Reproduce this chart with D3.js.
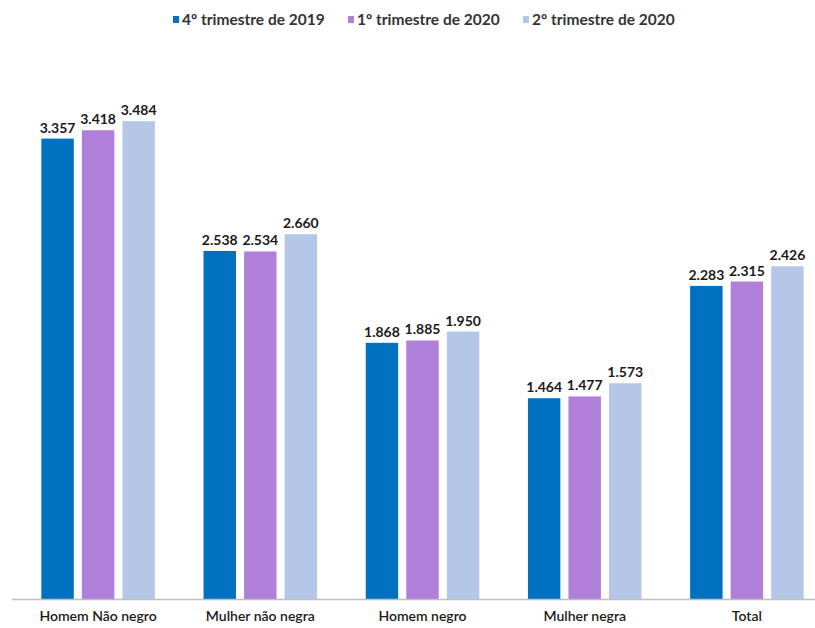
<!DOCTYPE html>
<html>
<head>
<meta charset="utf-8">
<script src="https://cdn.jsdelivr.net/npm/d3@7"></script>
<style>
  body { margin: 0; background: #fff; }
  text { font-family: Lato, "Open Sans", sans-serif; }
</style>
</head>
<body>
<div id="chart"></div>
<script>
// data
let categories = ["Homem Não negro", "Mulher não negra", "Homem negro", "Mulher negra", "Total"];
let seriesNames = ["4º trimestre de 2019", "1º trimestre de 2020", "2º trimestre de 2020"];
let q4_2019 = [3357, 2538, 1868, 1464, 2283];
let q1_2020 = [3418, 2534, 1885, 1477, 2315];
let q2_2020 = [3484, 2660, 1950, 1573, 2426];
let colors = ["#0070C0", "#B07FDA", "#B4C7E7"];

let width = 815, height = 628;
let baseY = 599;

let svg = d3.select("#chart")
  .append("svg")
  .attr("width", width)
  .attr("height", height);

// rows built from the arrays
let rows = categories.map((c, i) => ({
  cat: c,
  vals: [q4_2019[i], q1_2020[i], q2_2020[i]]
}));

let x0 = d3.scaleBand()
  .domain(categories)
  .range([17, 828])
  .paddingInner(0.3)
  .paddingOuter(0.15);

let x1 = d3.scaleBand()
  .domain(seriesNames)
  .range([0, x0.bandwidth()])
  .paddingInner(0.2);

let y = d3.scaleLinear()
  .domain([0, 3500])
  .range([baseY, 119]);

let fmt = v => d3.format(",")(v).replace(/,/g, ".");

let groups = svg.append("g")
  .selectAll("g")
  .data(rows)
  .enter()
  .append("g")
    .attr("transform", d => `translate(${x0(d.cat)},0)`);

groups.selectAll("rect")
  .data(d => d.vals.map((v, j) => ({s: seriesNames[j], v: v, j: j})))
  .enter()
  .append("rect")
    .attr("x", d => x1(d.s))
    .attr("y", d => y(d.v))
    .attr("width", x1.bandwidth())
    .attr("height", d => baseY - y(d.v))
    .attr("fill", d => colors[d.j]);

groups.selectAll("text.val")
  .data(d => d.vals.map((v, j) => ({s: seriesNames[j], v: v, j: j})))
  .enter()
  .append("text")
    .attr("class", "val")
    .attr("x", d => x1(d.s) + x1.bandwidth() / 2)
    .attr("y", d => y(d.v) - 6)
    .attr("text-anchor", "middle")
    .style("font-size", "14px")
    .style("font-weight", "bold")
    .style("fill", "#1a1a1a")
    .text(d => fmt(d.v));

// baseline + category labels
let xAxis = svg.append("g")
  .attr("transform", `translate(0,${baseY})`)
  .call(d3.axisBottom(x0).tickSize(0).tickPadding(12));
xAxis.select(".domain")
  .attr("d", `M12,0.5H815`)
  .attr("stroke", "#bfbfbf")
  .attr("stroke-width", 1.5);
xAxis.selectAll("text")
  .style("font-family", "Lato, 'Open Sans', sans-serif")
  .style("font-size", "14px")
  .style("font-weight", "600")
  .style("fill", "#1a1a1a");

// legend
let legendX = [173, 348, 523];
let legend = svg.append("g")
  .selectAll("g")
  .data(seriesNames)
  .enter()
  .append("g")
    .attr("transform", (d, i) => `translate(${legendX[i]},14)`);
legend.append("rect")
  .attr("width", 6)
  .attr("height", 7)
  .attr("y", 2)
  .attr("fill", (d, i) => colors[i]);
legend.append("text")
  .attr("x", 9)
  .attr("y", 10.5)
  .style("font-size", "15.5px")
  .style("font-weight", "bold")
  .style("fill", "#333")
  .text(d => d);
</script>
</body>
</html>
